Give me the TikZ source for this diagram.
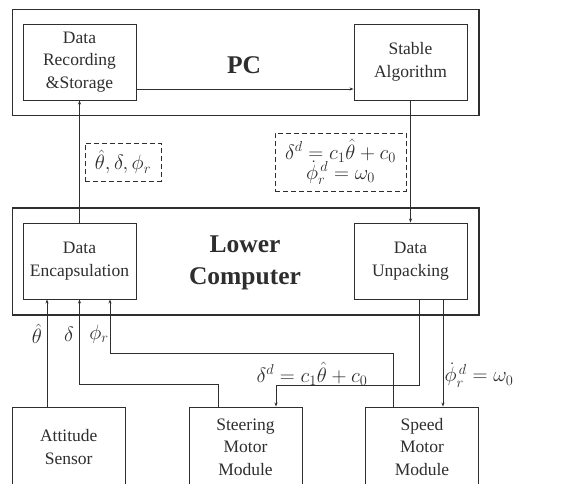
\documentclass[tikz,border=0pt]{standalone}
\usepackage{fontspec}
\setmainfont{Liberation Serif}
\usetikzlibrary{arrows.meta}
\definecolor{ink}{HTML}{2E2E2E}
\tikzset{
  outerbox/.style={draw=ink, line width=1.6pt, minimum width=466.5pt, minimum height=106pt, inner sep=0pt},
  inbox/.style={draw=ink, line width=0.9pt, minimum width=113pt, minimum height=76pt, align=center, inner sep=0pt,
    font=\fontsize{17.5}{22.5}\selectfont, text=ink},
  lowbox/.style={inbox, minimum height=80pt},
  dbox/.style={draw=ink, dash pattern=on 5pt off 3pt, line width=0.8pt, inner sep=0pt, align=center, text=ink, font=\fontsize{20}{22}\selectfont},
  title/.style={font=\fontsize{25.5}{32}\selectfont\bfseries, align=center, text=ink},
  arr/.style={draw=ink, line width=0.8pt, -{Stealth[length=4pt,width=3pt]}},
  mlab/.style={text=ink, font=\fontsize{20}{20}\selectfont, inner sep=0pt},
}
\begin{document}
\begin{tikzpicture}[x=1pt,y=-1pt]
\useasboundingbox (0,0) rectangle (584,483);
% PC
\node[outerbox] (PC) at (245.75,62.5) {};
\node[title] (PCt) at (244,65) {PC};
\node[inbox] (DR) at (79.5,62) {Data\\Recording\\\&Storage};
\node[inbox] (SA) at (410.5,62) {Stable\\Algorithm};
% Lower computer
\node[outerbox, minimum height=107pt] (LC) at (245.75,261.5) {};
\node[title] (LCt) at (245,263) {Lower\\Computer};
\node[inbox] (DE) at (79.5,261) {Data\\Encapsulation};
\node[inbox] (DU) at (410.5,261) {Data\\Unpacking};
% dashed boxes
\node[dbox, minimum width=76pt, minimum height=38pt] (D1) at (123,162) {$\hat{\theta},\delta,\phi_r$};
\node[dbox, minimum width=131pt, minimum height=58pt] (D2) at (340.5,162) {$\delta^d=c_1\hat{\theta}+c_0$\\[-3pt]$\dot{\phi}_r^{\,d}=\omega_0$};
% bottom boxes
\node[lowbox] (AS) at (68.75,447) {Attitude\\Sensor};
\node[lowbox] (SM) at (245.5,447) {Steering\\Motor\\Module};
\node[lowbox] (SP) at (422,447) {Speed\\Motor\\Module};
% connectors upper
\draw[arr] ([yshift=-27pt]DR.east) -- ([yshift=-27pt]SA.west);
\draw[arr] (DE.north) -- (DR.south);
\draw[arr] (SA.south) -- (DU.north);
% sensors to encapsulation
\draw[arr] (AS.north -| 47,0) -- (DE.south -| 47,0);
\draw[arr] (SM.north -| 218,0) |- (DE.south |- 0,384) -- (DE.south);
\draw[arr] (SP.north -| 393,0) |- (110,353) -- (DE.south -| 110,0);
% unpacking to motors
\draw[arr] (DU.south -| 419,0) |- (276,385.5) -- (SM.north -| 276,0);
\draw[arr] (DU.south -| 443,0) -- (SP.north -| 443,0);
% labels
\node[mlab] (L1) at (37,334) {$\hat{\theta}$};
\node[mlab] (L2) at (69,334) {$\delta$};
\node[mlab] (L3) at (99,334) {$\phi_r$};
\node[mlab] (L4) at (312,374) {$\delta^d=c_1\hat{\theta}+c_0$};
\node[mlab] (L5) at (479,375) {$\dot{\phi}_r^{\,d}=\omega_0$};
\end{tikzpicture}
\end{document}
